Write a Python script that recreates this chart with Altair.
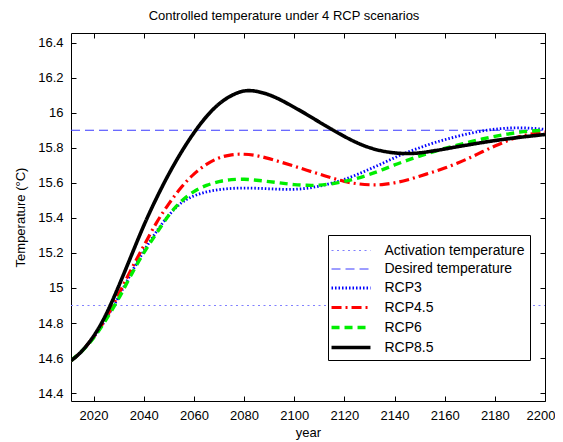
import altair as alt
import pandas as pd

years = [2011, 2015, 2020, 2025, 2030, 2035, 2040, 2045, 2050, 2055, 2060, 2065, 2070,
         2075, 2080, 2085, 2090, 2095, 2100, 2105, 2110, 2115, 2120, 2125, 2130, 2135,
         2140, 2145, 2150, 2155, 2160, 2165, 2170, 2175, 2180, 2185, 2190, 2195, 2200]

rcp3 = [14.585, 14.635, 14.717, 14.825, 14.95, 15.085, 15.21, 15.32, 15.415, 15.485, 15.525,
        15.548, 15.561, 15.568, 15.57, 15.569, 15.566, 15.563, 15.563, 15.569, 15.581, 15.598,
        15.62, 15.647, 15.678, 15.71, 15.743, 15.774, 15.80, 15.825, 15.846, 15.865, 15.882,
        15.896, 15.906, 15.912, 15.914, 15.911, 15.905]
rcp45 = [14.585, 14.635, 14.72, 14.83, 14.965, 15.105, 15.24, 15.37, 15.48, 15.575, 15.65,
         15.705, 15.742, 15.76, 15.763, 15.755, 15.738, 15.717, 15.695, 15.672, 15.65, 15.628,
         15.608, 15.595, 15.589, 15.59, 15.60, 15.616, 15.638, 15.66, 15.684, 15.712, 15.743,
         15.777, 15.81, 15.84, 15.864, 15.88, 15.89]
rcp6 = [14.585, 14.635, 14.715, 14.82, 14.94, 15.075, 15.20, 15.31, 15.415, 15.495, 15.55,
        15.585, 15.607, 15.618, 15.62, 15.615, 15.607, 15.598, 15.59, 15.586, 15.587, 15.595,
        15.608, 15.626, 15.648, 15.674, 15.702, 15.728, 15.752, 15.775, 15.796, 15.815, 15.833,
        15.85, 15.865, 15.878, 15.889, 15.896, 15.90]
rcp85 = [14.585, 14.635, 14.725, 14.85, 15.01, 15.183, 15.355, 15.51, 15.65, 15.775, 15.885,
         15.978, 16.05, 16.098, 16.124, 16.122, 16.102, 16.07, 16.031, 15.99, 15.947, 15.905,
         15.865, 15.829, 15.801, 15.782, 15.771, 15.767, 15.771, 15.781, 15.793, 15.806, 15.818,
         15.83, 15.841, 15.851, 15.86, 15.868, 15.876]

activation_temp = 14.9
desired_temp = 15.9
x_range = [2011, 2200]

series_names = ["Activation temperature", "Desired temperature", "RCP3", "RCP4.5", "RCP6", "RCP8.5"]
series_colors = ["#8080ff", "#3a3aff", "#0000ff", "#ff0000", "#00ee00", "#000000"]
series_dashes = [[2, 3.5], [9, 5], [1.5, 2], [10, 4, 2, 4], [8, 5], [1, 0]]
series_widths = [1.2, 1, 2.8, 3.2, 3.4, 3.6]

x_ticks = [2020, 2040, 2060, 2080, 2100, 2120, 2140, 2160, 2180, 2200]
y_ticks = [14.4, 14.6, 14.8, 15.0, 15.2, 15.4, 15.6, 15.8, 16.0, 16.2, 16.4]

rows = []
rows += [{"series": series_names[0], "year": x, "temp": activation_temp} for x in x_range]
rows += [{"series": series_names[1], "year": x, "temp": desired_temp} for x in x_range]
for name, vals in zip(series_names[2:], [rcp3, rcp45, rcp6, rcp85]):
    rows += [{"series": name, "year": y, "temp": v} for y, v in zip(years, vals)]
df = pd.DataFrame(rows)

xscale = alt.Scale(domain=x_range, nice=False, zero=False)
yscale = alt.Scale(domain=[14.355, 16.455], nice=False, zero=False)

lines = alt.Chart(df).mark_line(interpolate="natural", strokeCap="butt", clip=True).encode(
    x=alt.X("year:Q", scale=xscale,
            axis=alt.Axis(orient="bottom", values=x_ticks, format="d", title="year",
                          offset=-5, tickSize=5, domain=False, labelPadding=8,
                          labelFlush=True, labelFlushOffset=10, labelOverlap=False,
                          titlePadding=4, grid=False)),
    y=alt.Y("temp:Q", scale=yscale,
            axis=alt.Axis(orient="left", values=y_ticks, format="~g", title="Temperature (°C)",
                          offset=-5, tickSize=5, domain=False, labelPadding=8,
                          labelFlush=False, labelOverlap=False,
                          titlePadding=10, grid=False)),
    color=alt.Color("series:N", scale=alt.Scale(domain=series_names, range=series_colors), title=None),
    strokeDash=alt.StrokeDash("series:N", scale=alt.Scale(domain=series_names, range=series_dashes), title=None),
    strokeWidth=alt.StrokeWidth("series:N", scale=alt.Scale(type="ordinal", domain=series_names, range=series_widths), title=None),
)

frame_ticks = alt.Chart(df).mark_point(opacity=0).encode(
    x=alt.X("year:Q", scale=xscale,
            axis=alt.Axis(orient="top", values=x_ticks, labels=False, title=None,
                          offset=-5, tickSize=5, domain=False, grid=False)),
    y=alt.Y("temp:Q", scale=yscale,
            axis=alt.Axis(orient="right", values=y_ticks, labels=False, title=None,
                          offset=-5, tickSize=5, domain=False, grid=False)),
)

chart = alt.layer(lines, frame_ticks).properties(
    width=474, height=368,
    autosize=alt.AutoSizeParams(type="none"),
    padding={"left": 63, "top": 25, "right": 10, "bottom": 42},
    title=alt.TitleParams("Controlled temperature under 4 RCP scenarios", fontSize=13,
                          fontWeight="normal", font="Liberation Sans", color="#000000",
                          offset=10, dx=-24),
    background="white",
).configure_view(
    stroke="#000000", strokeWidth=1
).configure_axis(
    labelFont="Liberation Sans", labelFontSize=13, labelColor="#000000",
    titleFont="Liberation Sans", titleFontSize=13, titleColor="#000000", titleFontWeight="normal",
    tickColor="#000000", tickWidth=1
).configure_legend(
    orient="none", legendX=257, legendY=202,
    padding=5, strokeColor="#000000", fillColor="#ffffff", cornerRadius=0,
    symbolType="M-2.05,0H2.05", symbolSize=361, symbolOpacity=1, symbolOffset=6.5,
    labelFont="Liberation Sans", labelFontSize=14, labelColor="#000000", labelOffset=22,
    rowPadding=1
)

chart.save("out.html", embed_options={"renderer": "svg", "actions": False})
